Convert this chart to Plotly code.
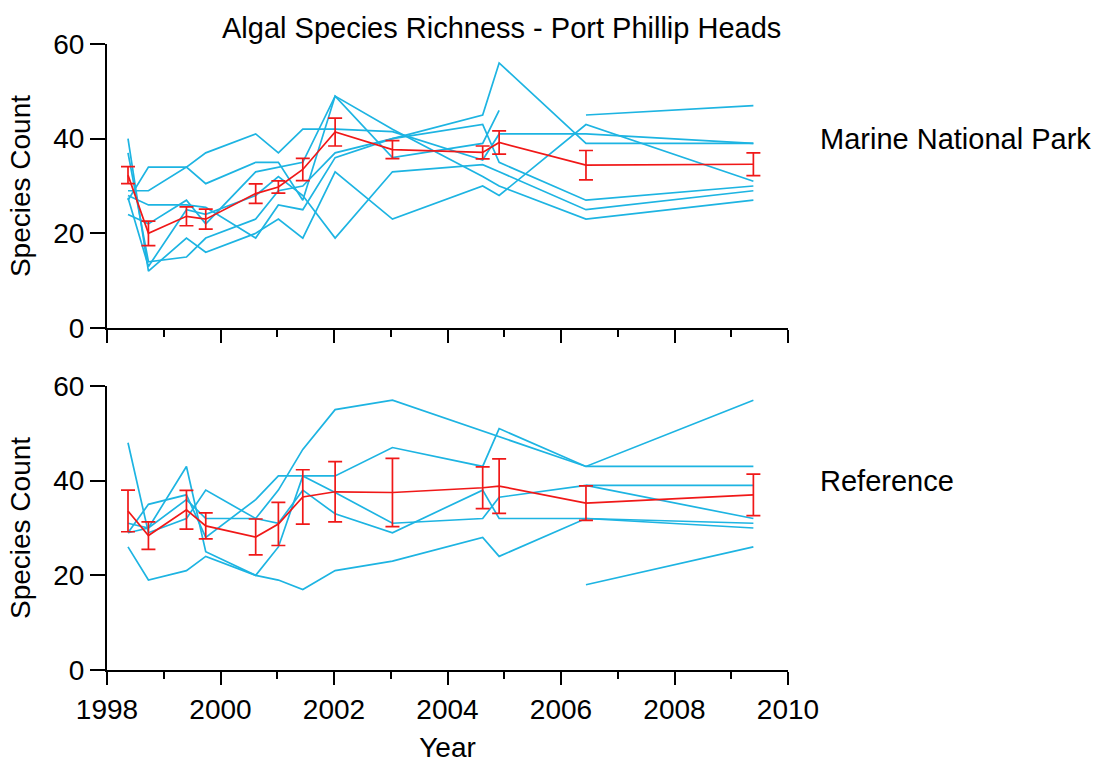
import plotly.graph_objects as go

# Survey dates (decimal years)
survey_year = [1998.37, 1998.73, 1999.40, 1999.74, 2000.62, 2001.02, 2001.45,
               2002.02, 2003.03, 2004.62, 2004.91, 2006.44, 2009.39]

N = None
# Marine National Park sites: species count per survey
mnp_site_1 = [27, 34, 34, 37, 41, 37, 42, 42, 41.5, 35.5, 41, 41, 39]
mnp_site_2 = [40, 12, 19, 16, 20, 23, 19, 33, 23, 30, 28, 43, 31]
mnp_site_3 = [29, 29, 34, 30.5, 35, 35, 27, 49, 36, 39, 46, N, N]
mnp_site_4 = [37, 14, 15, 19, 23, 29, 30, 37, 40, 45, 56, 39, 39]
mnp_site_5 = [28, 26, 26, 25.5, 19, 26, 25, 36, 40, 43, 35, 27, 30]
mnp_site_6 = [27.5, 13, 25, 24, 28, 32, 28, 19, 33, 34.5, 33, 25, 29]
mnp_site_7 = [24, 22, 27, 22, 33, 34, 35, 49, 42, 32, 30, 23, 27]
mnp_site_8 = [N, N, N, N, N, N, N, N, N, N, N, 45, 47]
mnp_sites = [mnp_site_1, mnp_site_2, mnp_site_3, mnp_site_4,
             mnp_site_5, mnp_site_6, mnp_site_7, mnp_site_8]

# Reference sites
ref_site_1 = [26, 19, 21, 24, 20, 19, 17, 21, 23, 28, 24, 32, 31]
ref_site_2 = [48, 29, 32, 38, 32, 38, 46.6, 55, 57, 50.5, 49.3, 43, 57]
ref_site_3 = [29, 35, 37, 28, 36, 41, 41, 41, 47, 43, 51, 43, 43]
ref_site_4 = [31, 30, 43, 25, 20, 26, 41, 37.5, 31, 32, 36.5, 39, 39]
ref_site_5 = [29, 30, 36, 32, 32, 31, 38, 33, 29, 38, 32, 32, 30]
ref_site_6 = [N, N, N, N, N, N, N, N, N, N, N, 39, 32]
ref_site_7 = [N, N, N, N, N, N, N, N, N, N, N, 18, 26]
ref_sites = [ref_site_1, ref_site_2, ref_site_3, ref_site_4,
             ref_site_5, ref_site_6, ref_site_7]

# Mean and standard error per survey
mnp_mean = [32.3, 20.0, 23.6, 23.0, 28.4, 29.8, 33.5, 41.4, 37.7, 37.1, 39.2, 34.4, 34.6]
mnp_se = [1.8, 2.6, 2.0, 2.1, 2.05, 1.3, 2.35, 2.95, 1.9, 1.35, 2.45, 3.1, 2.4]
ref_mean = [33.6, 28.4, 33.85, 30.45, 28.1, 30.85, 36.55, 37.65, 37.5, 38.5, 38.85, 35.25, 37.0]
ref_se = [4.4, 2.9, 4.1, 2.75, 3.8, 4.55, 5.75, 6.35, 7.2, 4.4, 5.75, 3.65, 4.4]

x_ticks = [1998, 2000, 2002, 2004, 2006, 2008, 2010]
y_ticks = [0, 20, 40, 60]
panel_labels = ["Marine National Park", "Reference"]

SITE_COLOR = "#1db4e2"
MEAN_COLOR = "#f01818"
FONT = "Liberation Sans, Arial, Helvetica, sans-serif"

fig = go.Figure()


def add_panel(sites, mean, se, xa, ya):
    for s in sites:
        fig.add_trace(go.Scatter(
            x=survey_year, y=s, mode="lines", xaxis=xa, yaxis=ya,
            line=dict(color=SITE_COLOR, width=1.7), connectgaps=False,
            showlegend=False, hoverinfo="skip"))
    fig.add_trace(go.Scatter(
        x=survey_year, y=mean, mode="lines", xaxis=xa, yaxis=ya,
        line=dict(color=MEAN_COLOR, width=1.7),
        error_y=dict(type="data", array=se, visible=True,
                     color=MEAN_COLOR, thickness=1.7, width=7),
        showlegend=False))


add_panel(mnp_sites, mnp_mean, mnp_se, "x", "y")
add_panel(ref_sites, ref_mean, ref_se, "x2", "y2")

axis_common = dict(showline=True, linecolor="black", linewidth=2,
                   ticks="outside", tickcolor="black", tickwidth=2,
                   showgrid=False, zeroline=False, mirror=False,
                   automargin=False, tickfont=dict(size=28))

xaxis_common = dict(axis_common, range=[1998, 2010], tickvals=x_ticks,
                    ticklen=13,
                    minor=dict(dtick=1, tick0=1998, ticks="outside", ticklen=7,
                               tickwidth=2, tickcolor="black", showgrid=False))

yaxis_common = dict(axis_common, range=[0, 60], tickvals=y_ticks, ticklen=15,
                    title=dict(text="Species Count", standoff=14,
                               font=dict(size=28)))

fig.update_layout(
    width=1098, height=765,
    margin=dict(l=107, r=310, t=44, b=95),
    paper_bgcolor="white", plot_bgcolor="white",
    font=dict(family=FONT, size=28, color="black"),
    xaxis=dict(xaxis_common, domain=[0, 1], anchor="y", showticklabels=False),
    yaxis=dict(yaxis_common, domain=[0.5463, 1], anchor="x"),
    xaxis2=dict(xaxis_common, domain=[0, 1], anchor="y2",
                title=dict(text="Year", standoff=14, font=dict(size=28))),
    yaxis2=dict(yaxis_common, domain=[0, 0.4537], anchor="x2"),
)

fig.add_annotation(text="Algal Species Richness - Port Phillip Heads",
                   xref="paper", yref="paper", x=0.579, y=1.0256,
                   xanchor="center", yanchor="middle", showarrow=False,
                   font=dict(size=29))
fig.add_annotation(text=panel_labels[0], xref="paper", yref="y",
                   x=1.044, y=40, xanchor="left", yanchor="middle",
                   showarrow=False, font=dict(size=29))
fig.add_annotation(text=panel_labels[1], xref="paper", yref="y2",
                   x=1.044, y=40, xanchor="left", yanchor="middle",
                   showarrow=False, font=dict(size=29))

fig.write_html("out.html")
